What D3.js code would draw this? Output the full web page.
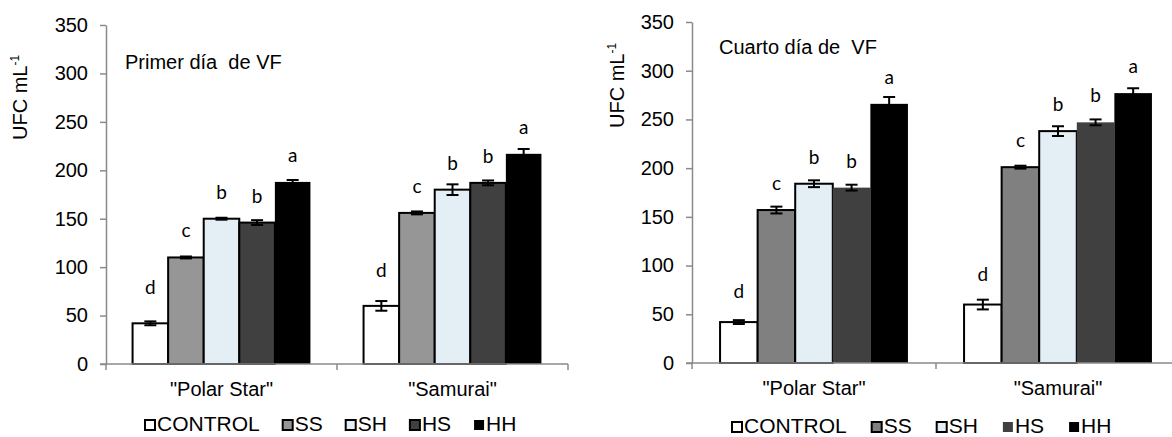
<!DOCTYPE html>
<html>
<head>
<meta charset="utf-8">
<script src="https://cdn.jsdelivr.net/npm/d3@7"></script>
<style>
  html, body { margin: 0; padding: 0; background: #fff; }
  svg { display: block; }
  text { font-family: "Liberation Sans", Arial, sans-serif; fill: #000; }
  .sig { font-family: Lato, "Open Sans", sans-serif; }
</style>
</head>
<body>
<svg id="chart" width="1172" height="437"></svg>
<script>
// Cultivars and treatments
const categories = ['"Polar Star"', '"Samurai"'];
const treatments = ["CONTROL", "SS", "SH", "HS", "HH"];
const yTicks = [0, 50, 100, 150, 200, 250, 300, 350];

// Primer día de VF (UFC mL-1), one row per cultivar, one column per treatment
const primerValues = [[42, 110, 150, 146, 188], [60, 156, 180, 187, 217]];
const primerErrors = [[2, 1, 1, 2.5, 2], [5, 1.5, 5.5, 2.5, 5]];
const primerLetters = [["d", "c", "b", "b", "a"], ["d", "c", "b", "b", "a"]];

// Cuarto día de VF
const cuartoValues = [[42, 157, 184, 180, 266], [60, 201, 238, 247, 277]];
const cuartoErrors = [[2, 3.5, 3.5, 3, 7], [5, 1.5, 5, 3, 5]];
const cuartoLetters = [["d", "c", "b", "b", "a"], ["d", "c", "b", "b", "a"]];

const svg = d3.select("#chart");
const axisColor = "#8a8a8a";

function drawPanel(opt) {
  const g = svg.append("g");
  const x = d3.scaleBand().domain(categories).range([opt.left, opt.right]);
  const bw = x.bandwidth();
  const pad = bw * 0.115;
  const xi = d3.scaleBand().domain(treatments).range([pad, bw - pad]);
  const y = d3.scaleLinear().domain([0, 350]).range([opt.bottom, opt.top]);

  // bars
  categories.forEach((cat, ci) => {
    const cg = g.append("g").attr("transform", `translate(${x(cat)},0)`);
    const rows = treatments.map((t, ti) => ({
      t, ti, v: opt.values[ci][ti], e: opt.errors[ci][ti], l: opt.letters[ci][ti]
    }));
    cg.selectAll("rect.bar").data(rows).join("rect")
      .attr("class", "bar")
      .attr("x", d => xi(d.t))
      .attr("y", d => y(d.v))
      .attr("width", xi.bandwidth())
      .attr("height", d => y(0) - y(d.v))
      .attr("fill", d => opt.fills[d.ti])
      .attr("stroke", d => opt.outlined[d.ti] ? "#000" : "none")
      .attr("stroke-width", 2);

    // error bars
    const eb = cg.selectAll("g.err").data(rows).join("g").attr("class", "err")
      .attr("stroke", "#000").attr("stroke-width", 2);
    eb.append("line")
      .attr("x1", d => xi(d.t) + xi.bandwidth() / 2)
      .attr("x2", d => xi(d.t) + xi.bandwidth() / 2)
      .attr("y1", d => y(d.v - d.e)).attr("y2", d => y(d.v + d.e));
    [-1, 1].forEach(s => {
      eb.append("line")
        .attr("x1", d => xi(d.t) + xi.bandwidth() / 2 - 6)
        .attr("x2", d => xi(d.t) + xi.bandwidth() / 2 + 6)
        .attr("y1", d => y(d.v + s * d.e)).attr("y2", d => y(d.v + s * d.e));
    });

    // significance letters
    cg.selectAll("text.sig").data(rows).join("text")
      .attr("class", "sig")
      .attr("x", d => xi(d.t) + xi.bandwidth() / 2)
      .attr("y", d => y(d.v) - (d.ti === 0 ? opt.ctrlGap : 20))
      .attr("text-anchor", "middle")
      .style("font-size", "19px")
      .text(d => d.l);
  });

  // y axis
  const ya = g.append("g").attr("transform", `translate(${opt.left},0)`)
    .call(d3.axisLeft(y).tickValues(yTicks).tickSize(6).tickSizeOuter(0).tickPadding(12));
  ya.select(".domain").attr("stroke", axisColor).attr("stroke-width", 1.5);
  ya.selectAll(".tick line").attr("stroke", axisColor).attr("stroke-width", 1.5);
  ya.selectAll(".tick text").style("font-size", "20px")
    .style("font-family", '"Liberation Sans", Arial, sans-serif').attr("fill", "#000");

  // x axis: baseline with ticks at cultivar boundaries
  const bounds = categories.map(c => x(c)).concat([opt.right]);
  const xa = g.append("g").attr("stroke", axisColor).attr("stroke-width", 1.5);
  xa.append("line").attr("x1", opt.left - 6).attr("x2", opt.right)
    .attr("y1", y(0)).attr("y2", y(0));
  xa.selectAll("line.b").data(bounds).join("line").attr("class", "b")
    .attr("x1", d => d).attr("x2", d => d)
    .attr("y1", y(0)).attr("y2", y(0) + 6);

  g.selectAll("text.cat").data(categories).join("text")
    .attr("class", "cat")
    .attr("x", d => x(d) + bw / 2)
    .attr("y", opt.catY)
    .attr("text-anchor", "middle")
    .style("font-size", "20px")
    .text(d => d);

  // panel title
  g.append("text").attr("x", opt.titleX).attr("y", opt.titleY)
    .style("font-size", "20px").style("white-space", "pre")
    .attr("xml:space", "preserve")
    .text(opt.title);

  // y axis title
  const yt = g.append("text")
    .attr("transform", `translate(${opt.yTitleX},${opt.yTitleY}) rotate(-90)`)
    .style("font-size", "20px");
  yt.append("tspan").text("UFC mL");
  yt.append("tspan").attr("dy", -8).style("font-size", "12px").text("-1");

  // legend
  const lg = g.append("g");
  let lx = opt.legendX;
  treatments.forEach((t, ti) => {
    lg.append("rect")
      .attr("x", lx).attr("y", opt.legendY - 11)
      .attr("width", 10).attr("height", 10)
      .attr("fill", opt.fills[ti])
      .attr("stroke", (opt.outlined[ti] && ti < 4) ? "#000" : "none")
      .attr("stroke-width", 2);
    const tx = lg.append("text").attr("x", lx + 12).attr("y", opt.legendY)
      .style("font-size", "21px").text(t);
    lx += 12 + tx.node().getComputedTextLength() + opt.legendGap;
  });
}

drawPanel({
  left: 106, right: 568, top: 25, bottom: 364,
  values: primerValues, errors: primerErrors, letters: primerLetters,
  fills: ["#ffffff", "#969696", "#e3eff5", "#404040", "#000000"],
  outlined: [true, true, true, true, false],
  ctrlGap: 29,
  catY: 396,
  title: "Primer día  de VF", titleX: 125, titleY: 69,
  yTitleX: 27, yTitleY: 140,
  legendX: 145, legendY: 431, legendGap: 23
});

drawPanel({
  left: 692, right: 1180, top: 22, bottom: 363,
  values: cuartoValues, errors: cuartoErrors, letters: cuartoLetters,
  fills: ["#ffffff", "#808080", "#e3eff5", "#404040", "#000000"],
  outlined: [true, true, true, false, false],
  ctrlGap: 24,
  catY: 395,
  title: "Cuarto día de  VF", titleX: 719, titleY: 54,
  yTitleX: 624, yTitleY: 128,
  legendX: 732, legendY: 433, legendGap: 25
});
</script>
</body>
</html>
